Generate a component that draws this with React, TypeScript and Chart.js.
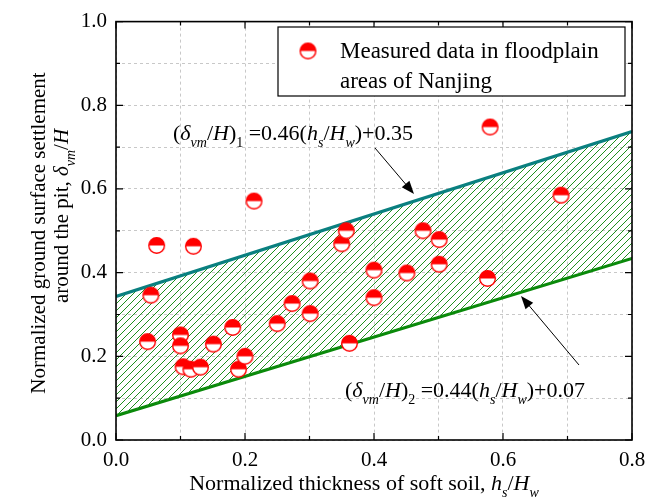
import React, { useEffect, useRef } from "react";
import { Chart, registerables } from "chart.js";

Chart.register(...registerables);

// ---- data ----
const measuredX = [0.063, 0.120, 0.214, 0.580, 0.690, 0.054, 0.049, 0.100, 0.100, 0.104, 0.116, 0.131, 0.151, 0.181, 0.190, 0.200, 0.250, 0.273, 0.301, 0.301, 0.350, 0.357, 0.362, 0.400, 0.400, 0.451, 0.476, 0.501, 0.501, 0.576];
const measuredY = [0.465, 0.463, 0.571, 0.748, 0.585, 0.346, 0.235, 0.251, 0.225, 0.175, 0.169, 0.174, 0.229, 0.269, 0.169, 0.200, 0.278, 0.326, 0.302, 0.380, 0.469, 0.500, 0.231, 0.406, 0.340, 0.399, 0.500, 0.479, 0.420, 0.386];
const boundX = [0, 0.8];
const upperY = [0.343, 0.737];
const lowerY = [0.058, 0.434];
const xTicks = [0, 0.2, 0.4, 0.6, 0.8];
const xTickLabels = ["0.0", "0.2", "0.4", "0.6", "0.8"];
const yTicks = [0, 0.2, 0.4, 0.6, 0.8, 1.0];
const yTickLabels = ["0.0", "0.2", "0.4", "0.6", "0.8", "1.0"];
const legendLines = ["Measured data in floodplain", "areas of Nanjing"];

const FONT = '"Liberation Serif", "Times New Roman", serif';

type Seg = { t: string; it?: boolean; sub?: boolean };

const SUB = 0.65;

function richWidth(ctx: CanvasRenderingContext2D, segs: Seg[], size: number) {
  let w = 0;
  for (const s of segs) {
    ctx.font = `${s.it ? "italic " : ""}${s.sub ? Math.round(size * SUB) : size}px ${FONT}`;
    w += ctx.measureText(s.t).width;
  }
  return w;
}

function drawRich(ctx: CanvasRenderingContext2D, segs: Seg[], x: number, y: number, size: number, align: "left" | "center" = "left") {
  const total = richWidth(ctx, segs, size);
  let cx = align === "center" ? x - total / 2 : x;
  ctx.textAlign = "left";
  ctx.textBaseline = "alphabetic";
  for (const s of segs) {
    ctx.font = `${s.it ? "italic " : ""}${s.sub ? Math.round(size * SUB) : size}px ${FONT}`;
    ctx.fillText(s.t, cx, y + (s.sub ? size * 0.32 : 0));
    cx += ctx.measureText(s.t).width;
  }
}

function arrow(ctx: CanvasRenderingContext2D, x1: number, y1: number, x2: number, y2: number) {
  const a = Math.atan2(y2 - y1, x2 - x1);
  const L = 13, W = 5;
  ctx.strokeStyle = "#000";
  ctx.lineWidth = 1;
  ctx.beginPath();
  ctx.moveTo(x1, y1);
  ctx.lineTo(x2 - Math.cos(a) * L * 0.8, y2 - Math.sin(a) * L * 0.8);
  ctx.stroke();
  ctx.fillStyle = "#000";
  ctx.beginPath();
  ctx.moveTo(x2, y2);
  ctx.lineTo(x2 - Math.cos(a) * L + Math.sin(a) * W, y2 - Math.sin(a) * L - Math.cos(a) * W);
  ctx.lineTo(x2 - Math.cos(a) * L - Math.sin(a) * W, y2 - Math.sin(a) * L + Math.cos(a) * W);
  ctx.closePath();
  ctx.fill();
}

function makeMarker(): HTMLCanvasElement {
  const c = document.createElement("canvas");
  c.width = 19;
  c.height = 19;
  const g = c.getContext("2d")!;
  const r = 7.8, cx = 9.5, cy = 9.5;
  g.fillStyle = "#fff";
  g.beginPath();
  g.arc(cx, cy, r, 0, Math.PI * 2);
  g.fill();
  g.fillStyle = "#ff0000";
  g.beginPath();
  g.arc(cx, cy, r, Math.PI, 0);
  g.closePath();
  g.fill();
  g.strokeStyle = "#ff0000";
  g.lineWidth = 1.4;
  g.beginPath();
  g.arc(cx, cy, r, 0, Math.PI * 2);
  g.stroke();
  return c;
}

function makeHatch(ctx: CanvasRenderingContext2D): CanvasPattern {
  const p = 7;
  const c = document.createElement("canvas");
  c.width = p;
  c.height = p;
  const g = c.getContext("2d")!;
  g.strokeStyle = "#1f8f1f";
  g.lineWidth = 1;
  g.beginPath();
  g.moveTo(-1, p + 1);
  g.lineTo(p + 1, -1);
  g.moveTo(-1, 1);
  g.lineTo(1, -1);
  g.moveTo(p - 1, p + 1);
  g.lineTo(p + 1, p - 1);
  g.stroke();
  return ctx.createPattern(c, "repeat")!;
}

export default function App() {
  const ref = useRef<HTMLCanvasElement | null>(null);

  useEffect(() => {
    document.body.style.margin = "0";
    const canvas = ref.current!;
    const ctx = canvas.getContext("2d")!;
    const marker = makeMarker();
    const hatch = makeHatch(ctx);

    const overlay = {
      id: "overlay",
      afterDraw(chart: any) {
        const c: CanvasRenderingContext2D = chart.ctx;
        const { left, right, top, bottom } = chart.chartArea;
        const xs = chart.scales.x, ys = chart.scales.y;
        c.save();
        // frame
        c.strokeStyle = "#000";
        c.lineWidth = 1.6;
        c.strokeRect(left, top, right - left, bottom - top);
        // inward ticks
        c.lineWidth = 1.2;
        c.beginPath();
        for (let i = 0; i <= 8; i++) {
          const v = i / 10;
          const px = xs.getPixelForValue(v);
          const len = i % 2 === 0 ? 7 : 4;
          c.moveTo(px, bottom);
          c.lineTo(px, bottom - len);
          c.moveTo(px, top);
          c.lineTo(px, top + len);
        }
        for (let i = 0; i <= 10; i++) {
          const v = i / 10;
          const py = ys.getPixelForValue(v);
          const len = i % 2 === 0 ? 7 : 4;
          c.moveTo(left, py);
          c.lineTo(left + len, py);
          c.moveTo(right, py);
          c.lineTo(right - len, py);
        }
        c.stroke();

        c.fillStyle = "#000";
        // annotations
        const ann1: Seg[] = [
          { t: "(" }, { t: "δ", it: true }, { t: "vm", it: true, sub: true }, { t: "/" }, { t: "H", it: true }, { t: ")" }, { t: "1", sub: true },
          { t: " =0.46(" }, { t: "h", it: true }, { t: "s", it: true, sub: true }, { t: "/" }, { t: "H", it: true }, { t: "w", it: true, sub: true }, { t: ")+0.35" },
        ];
        const ann2: Seg[] = [
          { t: "(" }, { t: "δ", it: true }, { t: "vm", it: true, sub: true }, { t: "/" }, { t: "H", it: true }, { t: ")" }, { t: "2", sub: true },
          { t: " =0.44(" }, { t: "h", it: true }, { t: "s", it: true, sub: true }, { t: "/" }, { t: "H", it: true }, { t: "w", it: true, sub: true }, { t: ")+0.07" },
        ];
        drawRich(c, ann1, 173, 140, 22);
        drawRich(c, ann2, 345, 397, 22);
        arrow(c, 375, 148, 414, 194);
        arrow(c, 579, 365, 521, 296);

        // legend
        c.fillStyle = "#fff";
        c.fillRect(278, 27, 347, 69);
        c.strokeStyle = "#000";
        c.lineWidth = 1.2;
        c.strokeRect(278, 27, 347, 69);
        c.drawImage(marker, 308 - 9.5, 51 - 9.5);
        c.fillStyle = "#000";
        c.font = `23px ${FONT}`;
        c.textAlign = "left";
        c.textBaseline = "alphabetic";
        c.fillText(legendLines[0], 340, 58);
        c.fillText(legendLines[1], 340, 88);

        // x title
        const xt: Seg[] = [
          { t: "Normalized thickness of soft soil, " }, { t: "h", it: true }, { t: "s", it: true, sub: true }, { t: "/" }, { t: "H", it: true }, { t: "w", it: true, sub: true },
        ];
        drawRich(c, xt, 364, 490, 22, "center");

        // y title
        const yt1: Seg[] = [{ t: "Normalized ground surface settlement" }];
        const yt2: Seg[] = [{ t: "around the pit, " }, { t: "δ", it: true }, { t: "vm", it: true, sub: true }, { t: "/" }, { t: "H", it: true }];
        c.save();
        c.translate(45, 233);
        c.rotate(-Math.PI / 2);
        drawRich(c, yt1, 0, 0, 21, "center");
        c.restore();
        c.save();
        c.translate(68, 216);
        c.rotate(-Math.PI / 2);
        drawRich(c, yt2, 0, 0, 21, "center");
        c.restore();

        c.restore();
      },
    };

    const chart = new Chart(canvas, {
      type: "scatter",
      data: {
        datasets: [
          {
            label: legendLines.join(" "),
            data: measuredX.map((x, i) => ({ x, y: measuredY[i] })),
            pointStyle: marker as any,
            pointRadius: 8,
            order: 0,
          },
          {
            type: "line",
            label: "upper",
            data: boundX.map((x, i) => ({ x, y: upperY[i] })),
            borderColor: "#0a8080",
            borderWidth: 3.2,
            pointRadius: 0,
            fill: "+1",
            backgroundColor: hatch as any,
            order: 1,
          },
          {
            type: "line",
            label: "lower",
            data: boundX.map((x, i) => ({ x, y: lowerY[i] })),
            borderColor: "#0a8a0a",
            borderWidth: 3.2,
            pointRadius: 0,
            fill: false,
            order: 2,
          },
        ] as any,
      },
      options: {
        animation: false,
        responsive: false,
        layout: { padding: { top: 21, right: 25, left: 0, bottom: 0 } },
        plugins: { legend: { display: false }, tooltip: { enabled: false } },
        scales: {
          x: {
            type: "linear",
            min: 0,
            max: 0.8,
            afterFit: (s: any) => { s.height = 59; },
            grid: { color: "#c8c8c8", lineWidth: 1, drawTicks: false },
            border: { display: false, dash: [3, 3] },
            ticks: {
              stepSize: 0.1,
              autoSkip: false,
              maxRotation: 0,
              padding: 8,
              color: "#000",
              font: { family: FONT, size: 21 },
              callback: (v: any) => {
                const i = xTicks.findIndex((t) => Math.abs(t - Number(v)) < 1e-6);
                return i >= 0 ? xTickLabels[i] : "";
              },
            },
          },
          y: {
            type: "linear",
            min: 0,
            max: 1,
            afterFit: (s: any) => { s.width = 116; },
            grid: { color: "#c8c8c8", lineWidth: 1, drawTicks: false },
            border: { display: false, dash: [3, 3] },
            ticks: {
              stepSize: 0.1,
              autoSkip: false,
              padding: 9,
              color: "#000",
              font: { family: FONT, size: 21 },
              callback: (v: any) => {
                const i = yTicks.findIndex((t) => Math.abs(t - Number(v)) < 1e-6);
                return i >= 0 ? yTickLabels[i] : "";
              },
            },
          },
        },
      },
      plugins: [overlay],
    } as any);

    return () => chart.destroy();
  }, []);

  return (
    <div style={{ width: 657, height: 499 }}>
      <canvas ref={ref} width={657} height={499} style={{ display: "block" }} />
    </div>
  );
}
